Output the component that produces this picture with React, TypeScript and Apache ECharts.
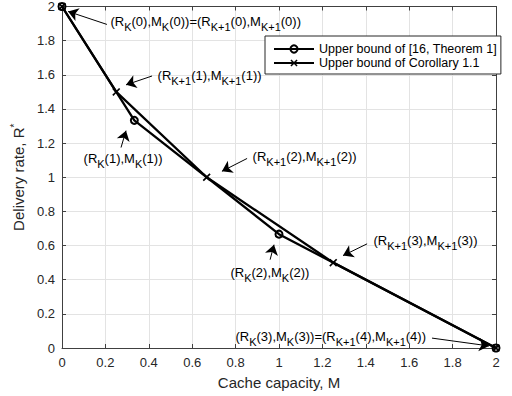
import React, { useEffect, useRef } from "react";
import * as echarts from "echarts";

const FONT = "'Liberation Sans', Arial, Helvetica, sans-serif";

// Upper bound of [16, Theorem 1]
const thmCache = [0, 1 / 3, 1, 2];
const thmRate = [2, 4 / 3, 2 / 3, 0];
// Upper bound of Corollary 1.1
const corCache = [0, 0.25, 2 / 3, 1.25, 2];
const corRate = [2, 1.5, 1, 0.5, 0];

const seriesNames = ["Upper bound of [16, Theorem 1]", "Upper bound of Corollary 1.1"];

const xMin = 0;
const xMax = 2;
const yMin = 0;
const yMax = 2;
const tickStep = 0.2;

// annotation texts (data-space anchor, left-middle)
const annoLabels = [
  "(R{s|K}(0),M{s|K}(0))=(R{s|K+1}(0),M{s|K+1}(0))",
  "(R{s|K+1}(1),M{s|K+1}(1))",
  "(R{s|K}(1),M{s|K}(1))",
  "(R{s|K+1}(2),M{s|K+1}(2))",
  "(R{s|K+1}(3),M{s|K+1}(3))",
  "(R{s|K}(2),M{s|K}(2))",
  "(R{s|K}(3),M{s|K}(3))=(R{s|K+1}(4),M{s|K+1}(4))",
];
const annoLabelM = [0.221, 0.438, 0.097, 0.876, 1.433, 0.774, 0.797];
const annoLabelR = [1.913, 1.593, 1.11, 1.122, 0.628, 0.442, 0.07];
// annotation arrows (data space)
const arrowTailM = [0.207, 0.415, 0.272, 0.853, 1.406, 0.959, 1.705];
const arrowTailR = [1.895, 1.593, 1.174, 1.11, 0.61, 0.517, 0.058];
const arrowTipM = [0.028, 0.295, 0.295, 0.737, 1.295, 0.977, 1.968];
const arrowTipR = [1.971, 1.541, 1.273, 1.035, 0.541, 0.605, 0.012];

const CROSS = "path://M0,1.5L1.5,0L5,3.5L8.5,0L10,1.5L6.5,5L10,8.5L8.5,10L5,6.5L1.5,10L0,8.5L3.5,5Z";

export default function App() {
  const ref = useRef<HTMLDivElement>(null);

  useEffect(() => {
    if (!ref.current) return;
    const chart = echarts.init(ref.current, undefined, { renderer: "svg" });
    const axisLineColor = "#404040";
    const labelColor = "#262626";

    const baseX = {
      type: "value",
      min: xMin,
      max: xMax,
      interval: tickStep,
    };
    const baseY = {
      type: "value",
      min: yMin,
      max: yMax,
      interval: tickStep,
    };

    const markPointData = annoLabels.map((txt, i) => ({
      coord: [annoLabelM[i], annoLabelR[i]],
      symbol: "circle",
      symbolSize: 1,
      itemStyle: { color: "rgba(0,0,0,0)" },
      label: {
        show: true,
        position: "right",
        distance: 0,
        formatter: txt,
        color: "#000",
        fontSize: 13,
        fontFamily: FONT,
        rich: {
          s: { fontSize: 11, color: "#000", fontFamily: FONT, padding: [11, 0, 0, 0] },
        },
      },
    }));

    const markLineData = arrowTailM.map((_, i) => [
      { coord: [arrowTailM[i], arrowTailR[i]] },
      { coord: [arrowTipM[i], arrowTipR[i]] },
    ]);

    const option: any = {
      animation: false,
      backgroundColor: "#fff",
      textStyle: { fontFamily: FONT },
      grid: { left: 62, right: 16, top: 4, bottom: 48, containLabel: false },
      legend: {
        orient: "vertical",
        left: 265,
        top: 36,
        padding: [6, 4, 4, 8],
        itemGap: 0,
        itemWidth: 40,
        itemHeight: 9,
        backgroundColor: "#fff",
        borderColor: "#262626",
        borderWidth: 1,
        borderRadius: 0,
        textStyle: { fontSize: 12.5, color: "#000", fontFamily: FONT, lineHeight: 14, padding: [0, 0, 0, 0] },
        data: seriesNames,
      },
      xAxis: [
        {
          ...baseX,
          position: "bottom",
          name: "Cache capacity, M",
          nameLocation: "middle",
          nameGap: 27,
          nameTextStyle: { fontSize: 15, color: labelColor, fontFamily: FONT },
          axisLine: { show: true, onZero: false, lineStyle: { color: axisLineColor, width: 1 } },
          axisTick: { show: true, inside: true, length: 4, lineStyle: { color: axisLineColor } },
          axisLabel: { fontSize: 13, color: labelColor, margin: 8, fontFamily: FONT },
          splitLine: { show: true, lineStyle: { color: "#e3e3e3", width: 1 } },
        },
        {
          ...baseX,
          position: "top",
          axisLine: { show: true, onZero: false, lineStyle: { color: axisLineColor, width: 1 } },
          axisTick: { show: true, inside: true, length: 4, lineStyle: { color: axisLineColor } },
          axisLabel: { show: false },
          splitLine: { show: false },
        },
      ],
      yAxis: [
        {
          ...baseY,
          position: "left",
          name: "Delivery rate, R{sup|*}",
          nameLocation: "middle",
          nameGap: 28,
          nameTextStyle: {
            fontSize: 15,
            color: labelColor,
            fontFamily: FONT,
            rich: { sup: { fontSize: 10, color: labelColor, fontFamily: FONT, padding: [0, 0, 9, 0] } },
          },
          axisLine: { show: true, onZero: false, lineStyle: { color: axisLineColor, width: 1 } },
          axisTick: { show: true, inside: true, length: 4, lineStyle: { color: axisLineColor } },
          axisLabel: { fontSize: 13, color: labelColor, margin: 7, fontFamily: FONT },
          splitLine: { show: true, lineStyle: { color: "#e3e3e3", width: 1 } },
        },
        {
          ...baseY,
          position: "right",
          axisLine: { show: true, onZero: false, lineStyle: { color: axisLineColor, width: 1 } },
          axisTick: { show: true, inside: true, length: 4, lineStyle: { color: axisLineColor } },
          axisLabel: { show: false },
          splitLine: { show: false },
        },
      ],
      series: [
        {
          name: seriesNames[0],
          type: "line",
          xAxisIndex: 0,
          yAxisIndex: 0,
          data: thmCache.map((m, i) => [m, thmRate[i]]),
          symbol: "circle",
          symbolSize: 7,
          showAllSymbol: true,
          clip: false,
          lineStyle: { color: "#000", width: 2.3 },
          itemStyle: { color: "rgba(0,0,0,0)", borderColor: "#000", borderWidth: 2 },
          emphasis: { disabled: true },
          z: 3,
        },
        {
          name: seriesNames[1],
          type: "line",
          xAxisIndex: 0,
          yAxisIndex: 0,
          data: corCache.map((m, i) => [m, corRate[i]]),
          symbol: CROSS,
          symbolSize: 8,
          showAllSymbol: true,
          clip: false,
          lineStyle: { color: "#000", width: 2.3 },
          itemStyle: { color: "#000" },
          emphasis: { disabled: true },
          z: 4,
          markPoint: {
            silent: true,
            animation: false,
            emphasis: { disabled: true },
            data: markPointData,
          },
          markLine: {
            silent: true,
            animation: false,
            symbol: ["none", "arrow"],
            symbolSize: 10,
            label: { show: false },
            emphasis: { disabled: true },
            lineStyle: { color: "#000", width: 1, type: "solid" },
            data: markLineData,
          },
        },
      ],
    };
    chart.setOption(option);
    return () => {
      chart.dispose();
    };
  }, []);

  return (
    <div
      ref={ref}
      style={{ position: "fixed", left: 0, top: 0, width: 512, height: 396, background: "#fff" }}
    />
  );
}
